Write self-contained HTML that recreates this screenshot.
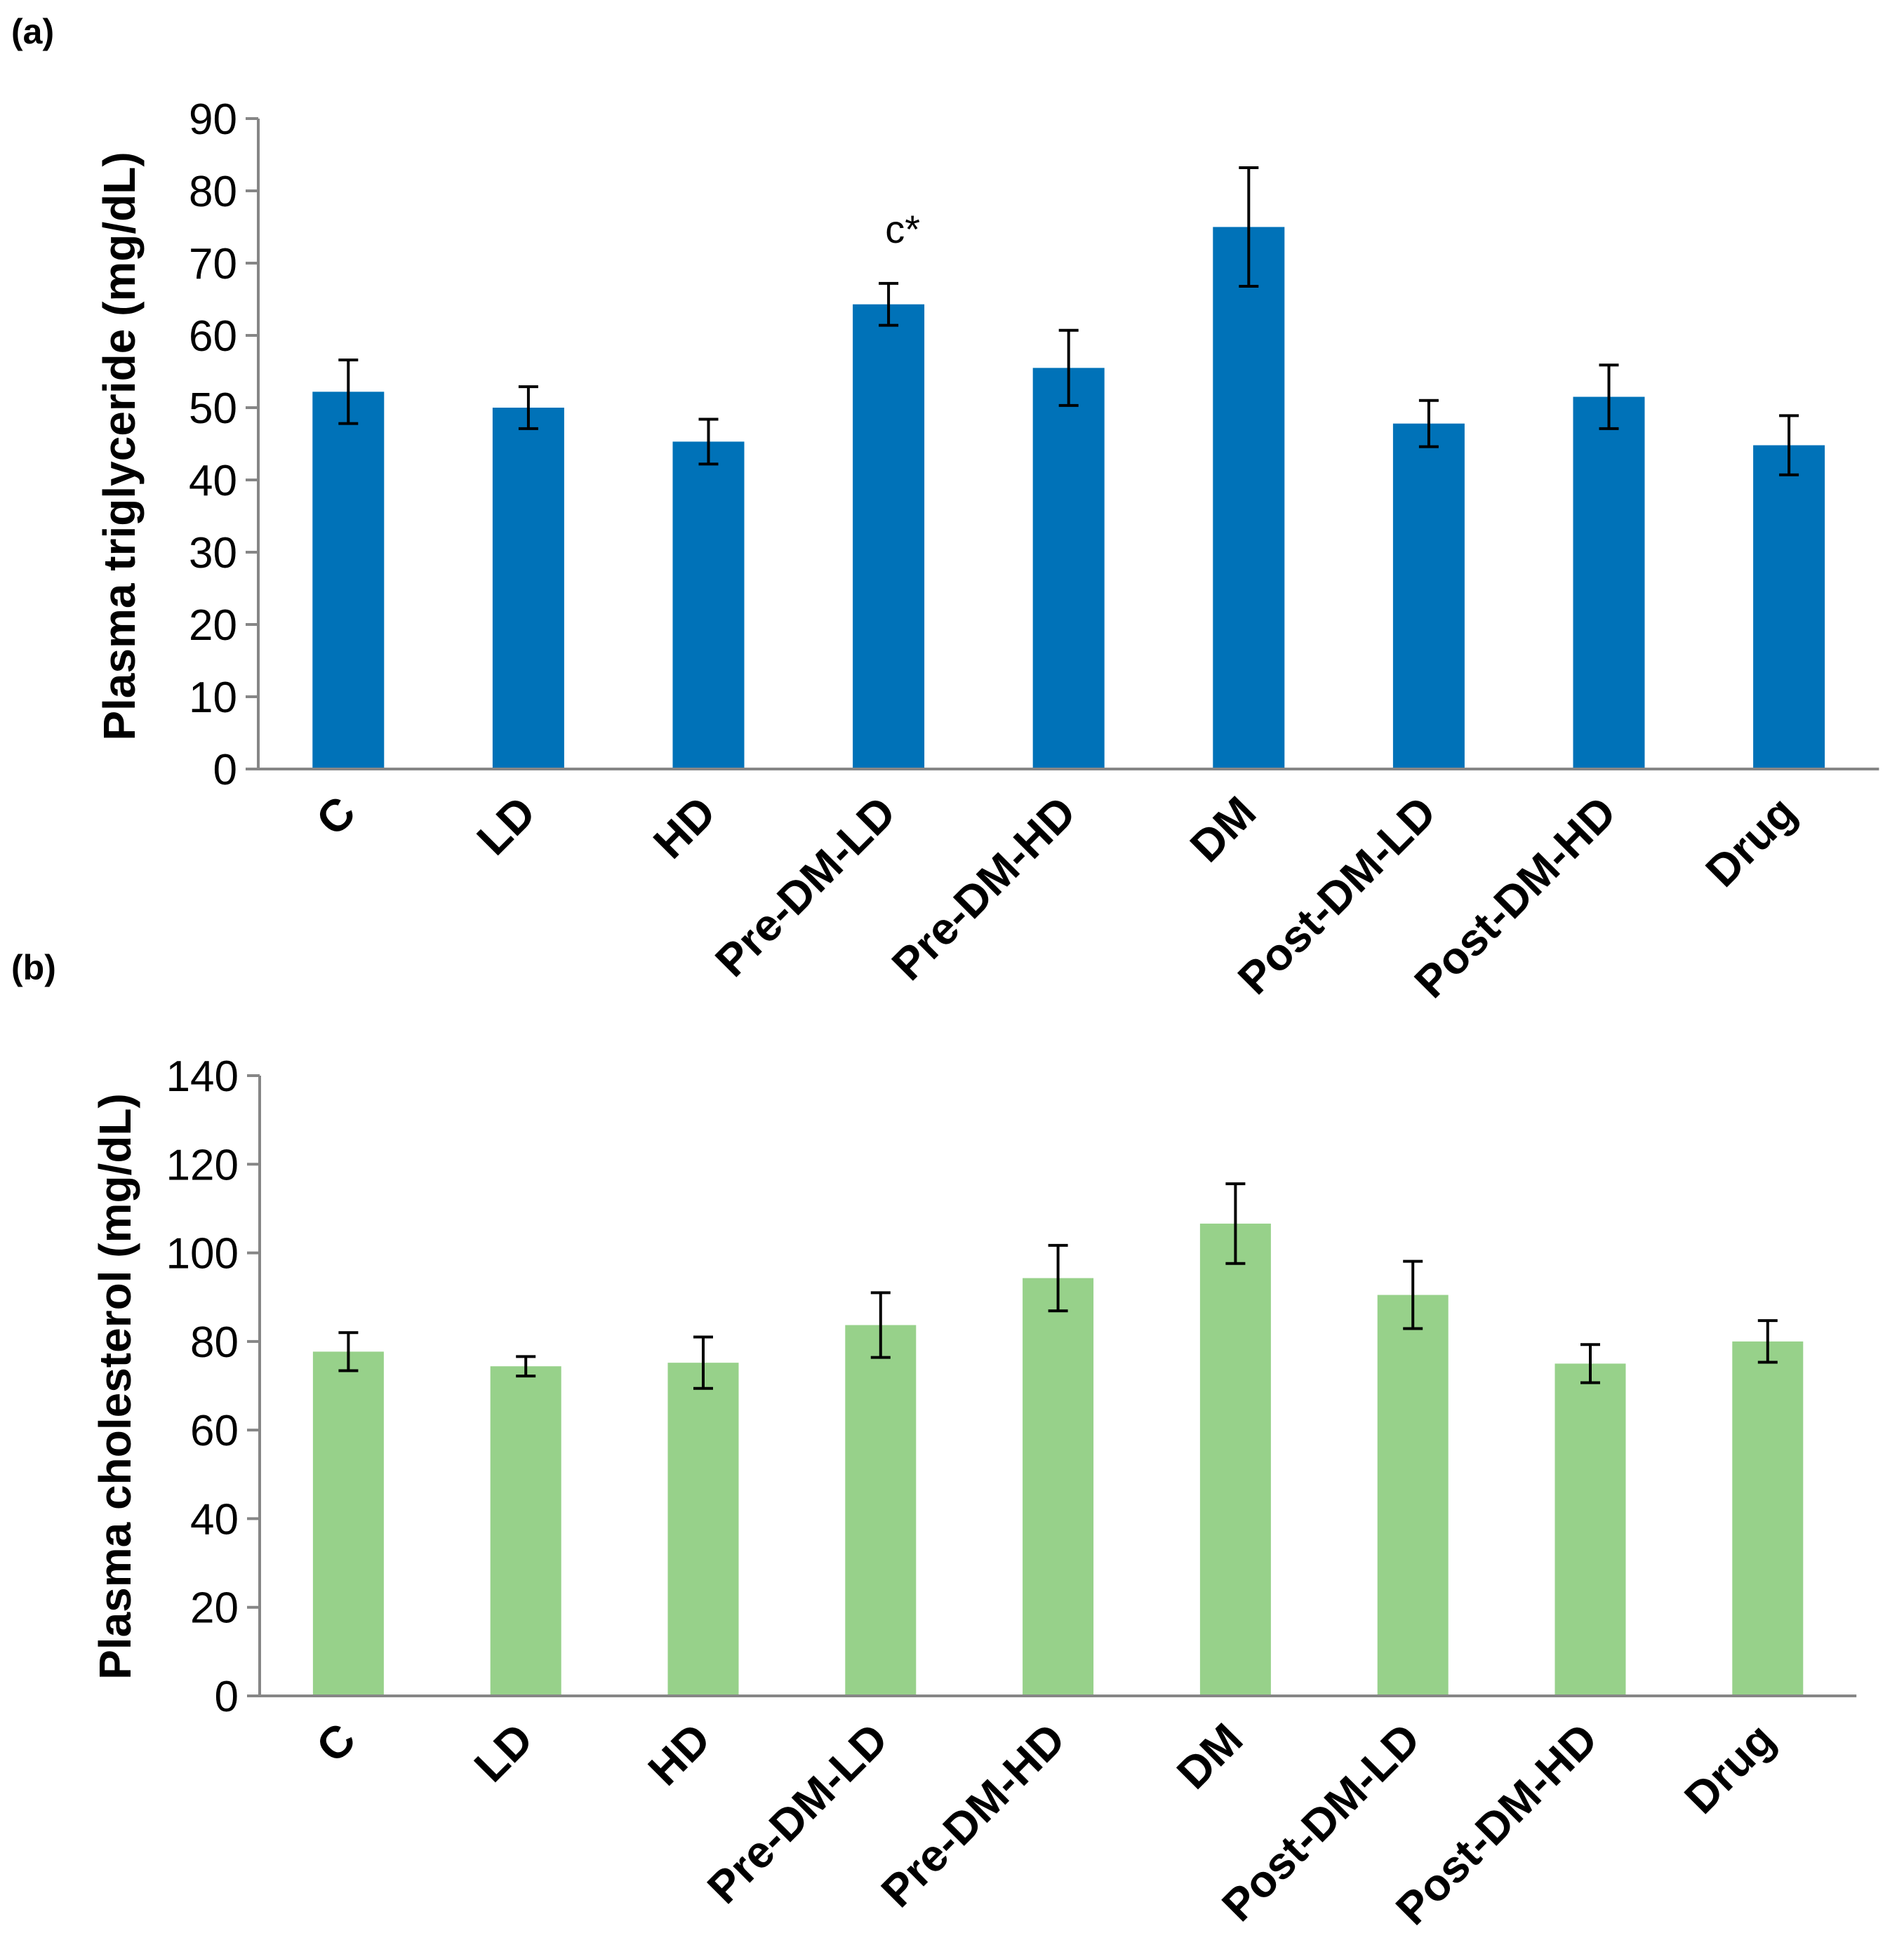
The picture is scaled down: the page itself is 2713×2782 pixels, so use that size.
<!DOCTYPE html>
<html><head><meta charset="utf-8"><style>
html,body{margin:0;padding:0;background:#fff}
svg{display:block;font-family:"Liberation Sans",Arial,sans-serif}
</style></head><body>
<svg id="s" width="2713" height="2782" viewBox="0 0 2713 2782" xmlns="http://www.w3.org/2000/svg">
<text x="16" y="62" font-size="50" font-weight="bold">(a)</text>
<text x="16" y="1396" font-size="50" font-weight="bold">(b)</text>
</svg>
<script>
const categories=["C","LD","HD","Pre-DM-LD","Pre-DM-HD","DM","Post-DM-LD","Post-DM-HD","Drug"];
const tgValues=[52.2,50,45.3,64.3,55.5,75,47.8,51.5,44.8];
const tgErrors=[4.4,2.9,3.1,2.9,5.2,8.2,3.2,4.4,4.1];
const tgTicks=[0,10,20,30,40,50,60,70,80,90];
const cholValues=[77.7,74.4,75.2,83.7,94.3,106.6,90.5,75,80];
const cholErrors=[4.3,2.2,5.8,7.3,7.4,9,7.6,4.3,4.7];
const cholTicks=[0,20,40,60,80,100,120,140];
const NS="http://www.w3.org/2000/svg";
const svg=document.getElementById('s');
function mk(t,a,p){const e=document.createElementNS(NS,t);for(const k in a)e.setAttribute(k,a[k]);(p||svg).appendChild(e);return e;}
function chart(o){
  const g=mk('g',{});
  
  
  const maxT=o.ticks[o.ticks.length-1];
  const y=v=>o.y0-(v/maxT)*(o.y0-o.yTop);
  const x=i=>o.x0+o.slot*(i+0.5);
  const xEnd=o.x0+o.slot*categories.length;
  o.values.forEach((v,i)=>{
    const r=mk('rect',{x:x(i)-o.bw/2,y:y(v),width:o.bw,height:o.y0-y(v),fill:o.color},g);
    
    
    const e=o.errors[i];
    const eg=mk('g',{stroke:'#000','stroke-width':4},g);
    
    
    mk('line',{x1:x(i),x2:x(i),y1:y(v+e),y2:y(v-e)},eg);
    mk('line',{x1:x(i)-14,x2:x(i)+14,y1:y(v+e),y2:y(v+e)},eg);
    mk('line',{x1:x(i)-14,x2:x(i)+14,y1:y(v-e),y2:y(v-e)},eg);
    const t=mk('text',{x:0,y:0,'font-size':64,'font-weight':'bold','text-anchor':'end',transform:`translate(${x(i)+14},${o.y0+66}) rotate(-45)`},g);
    t.textContent=categories[i];
    
    
  });
  const ax=mk('g',{stroke:'#868686','stroke-width':4},g);
  
  
  mk('line',{x1:o.x0,x2:o.x0,y1:o.yTop,y2:o.y0+2},ax);
  mk('line',{x1:o.x0-18,x2:xEnd,y1:o.y0,y2:o.y0},ax);
  o.ticks.forEach(t=>{
    mk('line',{x1:o.x0-18,x2:o.x0,y1:y(t),y2:y(t)},ax);
    const tx=mk('text',{x:o.x0-30,y:y(t)+22,'font-size':62,'text-anchor':'end',fill:'#000'},g);
    tx.textContent=t;
    
    
  });
  const yt=mk('text',{x:0,y:0,'font-size':64,'font-weight':'bold','text-anchor':'middle',transform:`translate(${o.titleX},${o.titleY}) rotate(-90)`},g);
  yt.textContent=o.title;
  
  
  return {x,y};
}
const a=chart({name:'triglyceride-chart',x0:368,y0:1096,yTop:169,slot:256.6,bw:102,color:'#0072b8',values:tgValues,errors:tgErrors,ticks:tgTicks,title:'Plasma triglyceride (mg/dL)',titleX:192,titleY:636});
const c=mk('text',{x:a.x(3)+20,y:346,'font-size':56,'text-anchor':'middle'});
c.textContent='c*';


chart({name:'cholesterol-chart',x0:370,y0:2417,yTop:1533,slot:252.8,bw:101,color:'#97d18a',values:cholValues,errors:cholErrors,ticks:cholTicks,title:'Plasma cholesterol (mg/dL)',titleX:186,titleY:1976});
</script>
</body></html>
